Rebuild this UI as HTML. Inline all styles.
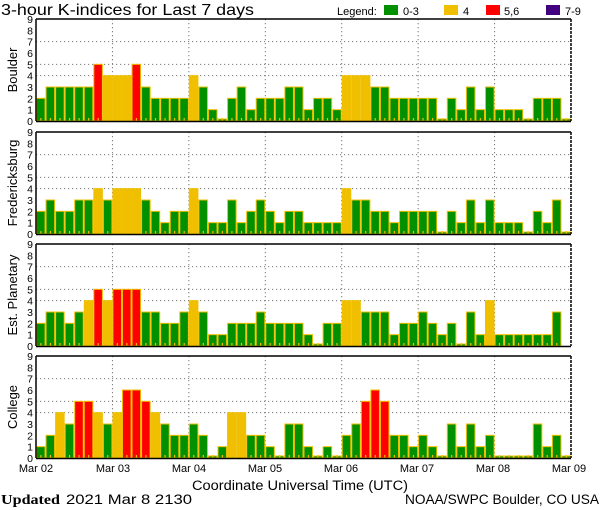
<!DOCTYPE html>
<html><head><meta charset="utf-8"><style>
html,body{margin:0;padding:0;background:#fff;}
svg{display:block;font-family:"Liberation Sans",sans-serif;}
</style></head><body>
<svg id="s" width="600" height="510" xmlns="http://www.w3.org/2000/svg">
<text x="1" y="15" font-size="16" fill="#000" textLength="253" lengthAdjust="spacingAndGlyphs">3-hour K-indices for Last 7 days</text>
<text x="337" y="15" font-size="11">Legend:</text>
<rect x="384" y="5" width="14" height="10" fill="#009000"/><text x="403" y="15" font-size="11">0-3</text>
<rect x="444" y="5" width="14" height="10" fill="#f0c000"/><text x="463" y="15" font-size="11">4</text>
<rect x="486" y="5" width="14" height="10" fill="#ff0000"/><text x="504" y="15" font-size="11">5,6</text>
<rect x="546" y="5" width="14" height="10" fill="#400080"/><text x="565" y="15" font-size="11">7-9</text>
<g font-size="11" text-anchor="middle">
<text x="36" y="472">Mar 02</text><text x="113" y="472">Mar 03</text><text x="189" y="472">Mar 04</text><text x="265" y="472">Mar 05</text><text x="341" y="472">Mar 06</text><text x="417" y="472">Mar 07</text><text x="493" y="472">Mar 08</text><text x="569" y="472">Mar 09</text>
</g>
<text x="192" y="490" font-size="13.5" textLength="216" lengthAdjust="spacingAndGlyphs">Coordinate Universal Time (UTC)</text>
<text x="1" y="504" font-size="13.5" font-family="Liberation Serif" font-weight="bold" textLength="59" lengthAdjust="spacingAndGlyphs">Updated</text>
<text x="66" y="504" font-size="13.5" textLength="126" lengthAdjust="spacingAndGlyphs">2021 Mar  8 2130</text>
<text x="405" y="504" font-size="13.5" textLength="194" lengthAdjust="spacingAndGlyphs">NOAA/SWPC Boulder, CO USA</text>
</svg>
<script>
var s=document.getElementById('s'),NS='http://www.w3.org/2000/svg';
function el(t,a,txt){var e=document.createElementNS(NS,t);for(var k in a)e.setAttribute(k,a[k]);if(txt!=null)e.textContent=txt;s.appendChild(e);return e;}
var P=[
{n:'Boulder',t:19,d:[2,3,3,3,3,3,5,4,4,4,5,3,2,2,2,2,4,3,1,0,2,3,1,2,2,2,3,3,1,2,2,1,4,4,4,3,3,2,2,2,2,2,0,2,1,3,1,3,1,1,1,0,2,2,2,0]},
{n:'Fredericksburg',t:132,d:[2,3,2,2,3,3,4,3,4,4,4,3,2,1,2,2,4,3,1,1,3,1,2,3,2,1,2,2,1,1,1,1,4,3,3,2,2,1,2,2,2,2,0,2,1,3,1,3,1,1,1,0,2,1,3,0]},
{n:'Est. Planetary',t:244,d:[2,3,3,2,3,4,5,4,5,5,5,3,3,2,2,3,4,3,1,1,2,2,2,3,2,2,2,2,1,0,2,2,4,4,3,3,3,1,2,2,3,2,1,2,0,3,1,4,1,1,1,1,1,1,3,null]},
{n:'College',t:356,d:[1,2,4,3,5,5,4,3,4,6,6,5,4,3,2,2,3,2,0,1,4,4,2,2,1,0,3,3,1,0,1,0,2,3,5,6,5,2,2,1,2,1,0,3,1,3,1,2,0,0,0,0,3,1,2,0]}];
var X0=36,X1=571,W=(X1-X0)/56,H=102,U=H/9;
P.forEach(function(p){
 var t=p.t,b=t+H;
 [4,5,7].forEach(function(k){el('line',{x1:X0,x2:X1,y1:b-k*U,y2:b-k*U,stroke:'#777','stroke-dasharray':'1.2 2.8','stroke-width':1});});
 for(var d=1;d<7;d++){var x=X0+d*8*W;el('line',{x1:x,x2:x,y1:t,y2:b,stroke:'#777','stroke-dasharray':'1.2 2.8','stroke-width':1});}
 p.d.forEach(function(v,i){
  if(v==null)return;
  var x=X0+i*W,c=v<=3?'#009000':v==4?'#f0c000':v<=6?'#ff0000':'#400080';
  var h=Math.max(v*U,2);
  el('rect',{x:x+0.5,y:b-h,width:W-1,height:h,fill:c,stroke:'#f0c000','stroke-width':1});
  el('rect',{x:x+W/2-0.5,y:b-3,width:1.2,height:3,fill:'#f0c000'});
 });
 el('line',{x1:X0,x2:X1,y1:t,y2:t,stroke:'#000','stroke-width':1.5});
 el('line',{x1:X0,x2:X1,y1:b+0.5,y2:b+0.5,stroke:'#000','stroke-width':1.5});
 el('line',{x1:X0,x2:X0,y1:t,y2:b,stroke:'#000','stroke-width':1.5});
 el('line',{x1:X1,x2:X1,y1:t,y2:b,stroke:'#000','stroke-width':1.5,'stroke-dasharray':'3 1'});
 for(var k=0;k<=9;k++)el('text',{x:33,y:b-k*U+4,'font-size':10.5,'text-anchor':'end'},String(k));
 var cy=t+H/2;
 el('text',{x:0,y:0,'font-size':13,'text-anchor':'middle',transform:'translate(17,'+cy+') rotate(-90)'},p.n);
});
</script>
</body></html>
